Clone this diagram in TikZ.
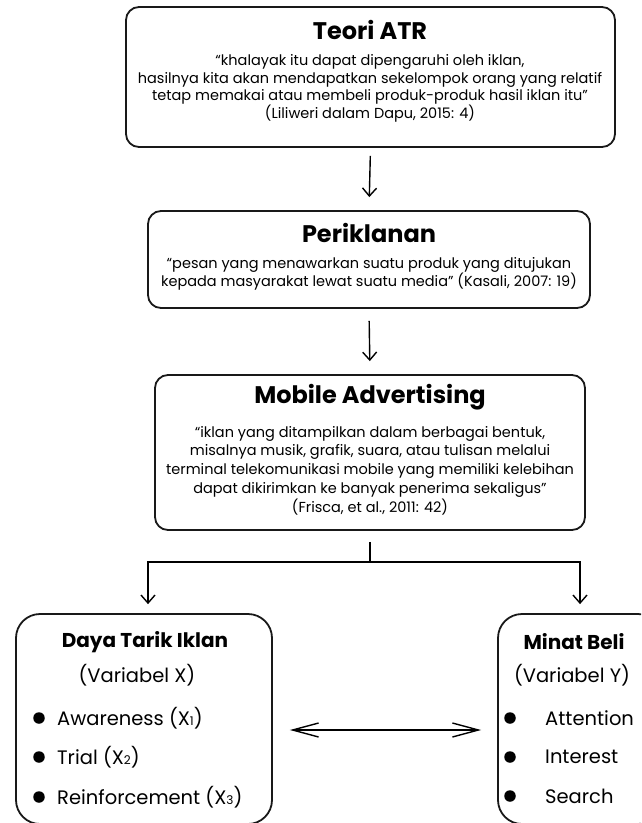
\documentclass[tikz,border=0pt]{standalone}
\usepackage{fontspec}
\setmainfont{Poppins}
\usetikzlibrary{arrows.meta,calc}
\tikzset{
  boxa/.style={draw=black!90, line width=1.8pt, rounded corners=13pt, inner sep=0pt},
  boxb/.style={draw=black!90, line width=1.8pt, rounded corners=24pt, inner sep=0pt},
  ttl/.style={font=\fontsize{24}{27}\selectfont\bfseries, inner sep=0pt},
  body/.style={font=\fontsize{14.5}{17.7}\selectfont, align=center, inner sep=0pt},
  sttl/.style={font=\fontsize{20}{23}\selectfont\bfseries, inner sep=0pt},
  item/.style={font=\fontsize{19.5}{22}\selectfont, inner sep=0pt, anchor=west},
  bul/.style={circle, fill=black, inner sep=0pt, minimum size=11.5pt},
  conn/.style={line width=1.4pt, -{Straight Barb[length=8pt,width=14pt,line width=1.4pt]}},
  plain/.style={line width=1.4pt},
  dbl/.style={line width=1.4pt, {Straight Barb[length=26pt,width=14pt,line width=1.4pt]}-{Straight Barb[length=26pt,width=14pt,line width=1.4pt]}}
}
\newcommand{\sub}[1]{{\fontsize{12}{12}\selectfont #1}}
\begin{document}
\begin{tikzpicture}[x=1pt,y=-1pt]
\useasboundingbox (0,0) rectangle (641,823);
\clip (0,0) rectangle (641,823);
% boxes
\node[boxa, minimum width=489pt, minimum height=140pt] (atr) at (370.5,77) {};
\node[boxa, minimum width=442pt, minimum height=97pt] (peri) at (369,259.5) {};
\node[boxa, minimum width=430pt, minimum height=155pt] (mob) at (370,452.5) {};
\node[boxb, minimum width=256pt, minimum height=210pt] (left) at (144,719) {};
\node[boxb, minimum width=164pt, minimum height=210pt] (right) at (580,719) {};
% texts
\node[ttl] (t1) at (370,30) {Teori ATR};
\node[body] (b1) at (370,88.5) {“khalayak itu dapat dipengaruhi oleh iklan,\\
hasilnya kita akan mendapatkan sekelompok orang yang relatif\\
tetap memakai atau membeli produk-produk hasil iklan itu”\\
(Liliweri dalam Dapu, 2015: 4)};
\node[ttl] (t2) at (369,233) {Periklanan};
\node[body, font=\fontsize{14.5}{18}\selectfont] (b2) at (369,274) {“pesan yang menawarkan suatu produk yang ditujukan\\
kepada masyarakat lewat suatu media” (Kasali, 2007: 19)};
\node[ttl] (t3) at (370,397) {Mobile Advertising};
\node[body, font=\fontsize{14.5}{18.75}\selectfont] (b3) at (370,470.5) {“iklan yang ditampilkan dalam berbagai bentuk,\\
misalnya musik, grafik, suara, atau tulisan melalui\\
terminal telekomunikasi mobile yang memiliki kelebihan\\
dapat dikirimkan ke banyak penerima sekaligus”\\
(Frisca, et al., 2011: 42)};
% left box content
\node[sttl] (lt) at (145,642) {Daya Tarik Iklan};
\node[item, anchor=center] (lv) at (137,675) {(Variabel X)};
\node[bul] (lb1) at (39,718) {};
\node[bul] (lb2) at (39,757) {};
\node[bul] (lb3) at (39,797) {};
\node[item] (li1) at (57,718) {Awareness (X\sub{1})};
\node[item] (li2) at (57,757) {Trial (X\sub{2})};
\node[item] (li3) at (57,797) {Reinforcement (X\sub{3})};
% right box content
\node[sttl] (rt) at (574,642) {Minat Beli};
\node[item, anchor=center] (rv) at (572,675) {(Variabel Y)};
\node[bul] (rb1) at (510,718) {};
\node[bul] (rb2) at (510,757) {};
\node[bul] (rb3) at (510,796) {};
\node[item] (ri1) at (545,718) {Attention};
\node[item] (ri2) at (545,757) {Interest};
\node[item] (ri3) at (545,796) {Search};
% connectors
\draw[conn, shorten <=8pt, shorten >=13pt] (atr.south) -- (peri.north);
\draw[conn, shorten <=12pt, shorten >=13pt] (peri.south) -- (mob.north);
\coordinate (split) at (370,562);
\draw[plain, shorten <=11pt] (mob.south) -- (split);
\draw[conn, shorten >=9pt] (split) -| ([xshift=4pt]left.north);
\draw[conn, shorten >=9pt] (split) -| (right.north);
\draw[dbl, shorten <=17pt, shorten >=16pt] ([yshift=-11pt]left.east) -- ([yshift=-11pt]right.west);
\end{tikzpicture}
\end{document}
